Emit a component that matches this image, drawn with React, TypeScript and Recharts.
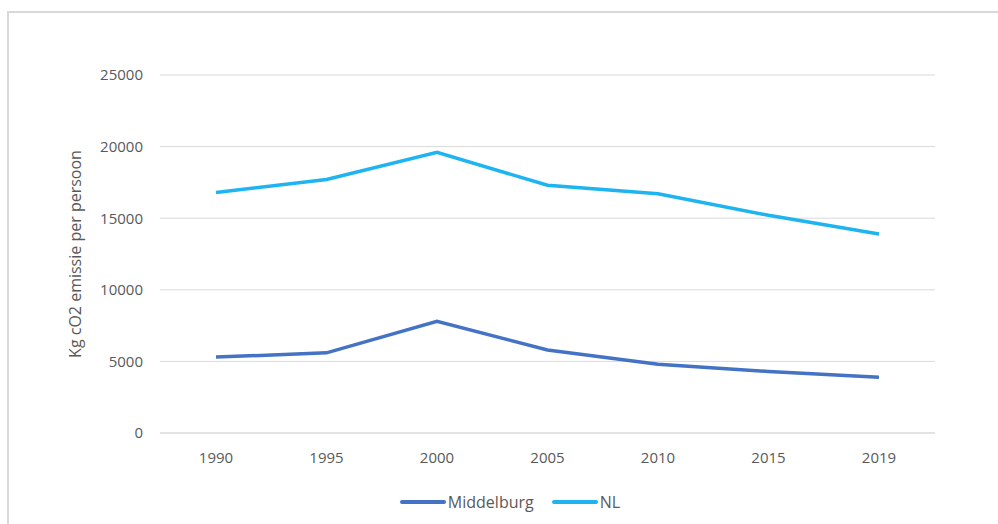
import { CartesianGrid, Legend, Line, LineChart, XAxis, YAxis } from "recharts";

const years = ["1990", "1995", "2000", "2005", "2010", "2015", "2019"];
const middelburg = [5300, 5600, 7800, 5800, 4800, 4300, 3900];
const nl = [16800, 17700, 19600, 17300, 16700, 15200, 13900];
const yTicks = [0, 5000, 10000, 15000, 20000, 25000];

const data = years.map((year, i) => ({
  year,
  Middelburg: middelburg[i],
  NL: nl[i],
}));

const font = "'Open Sans', 'Liberation Sans', sans-serif";
const textColor = "#595959";

function LegendContent({ payload }: { payload?: Array<{ value: string; color: string }> }) {
  return (
    <div style={{ display: "flex", justifyContent: "center", gap: 18, fontFamily: font, fontSize: 16, color: textColor }}>
      {(payload || []).map((p) => (
        <div key={p.value} style={{ display: "flex", alignItems: "center" }}>
          <span style={{ display: "inline-block", width: 46, height: 4, borderRadius: 2, background: p.color, marginRight: 2 }} />
          <span>{p.value}</span>
        </div>
      ))}
    </div>
  );
}

export default function App() {
  return (
    <div style={{ position: "absolute", left: 0, top: 0, width: 998, height: 524, overflow: "hidden", background: "#fff" }}>
      <div
        style={{
          position: "absolute",
          left: 7,
          top: 11,
          width: 1010,
          height: 530,
          border: "2px solid #d9d9d9",
          boxSizing: "border-box",
        }}
      />
      <div style={{ position: "absolute", left: 0, top: 0 }}>
        <LineChart width={998} height={524} data={data} margin={{ top: 75, right: 63, bottom: 39, left: 80 }}>
          <CartesianGrid stroke="#d9d9d9" vertical={false} />
          <XAxis
            dataKey="year"
            padding={{ left: 56, right: 56 }}
            axisLine={{ stroke: "#d9d9d9" }}
            tickLine={false}
            tickMargin={13}
            tick={{ fill: textColor, fontSize: 15, fontFamily: font }}
          />
          <YAxis
            width={80}
            domain={[0, 25000]}
            ticks={yTicks}
            axisLine={false}
            tickLine={false}
            tickMargin={11}
            tick={{ fill: textColor, fontSize: 15, fontFamily: font }}
            label={{
              value: "Kg cO2 emissie per persoon",
              angle: -90,
              position: "insideLeft",
              dx: -10,
              style: { textAnchor: "middle", fill: textColor, fontSize: 16, fontFamily: font },
            }}
          />
          <Legend
            verticalAlign="bottom"
            wrapperStyle={{ left: 0, width: 1020, bottom: 11 }}
            content={LegendContent as any}
          />
          <Line
            type="linear"
            dataKey="Middelburg"
            stroke="#4472C4"
            strokeWidth={3.5}
            dot={false}
            isAnimationActive={false}
          />
          <Line
            type="linear"
            dataKey="NL"
            stroke="#1DB4F0"
            strokeWidth={3.5}
            dot={false}
            isAnimationActive={false}
          />
        </LineChart>
      </div>
    </div>
  );
}
